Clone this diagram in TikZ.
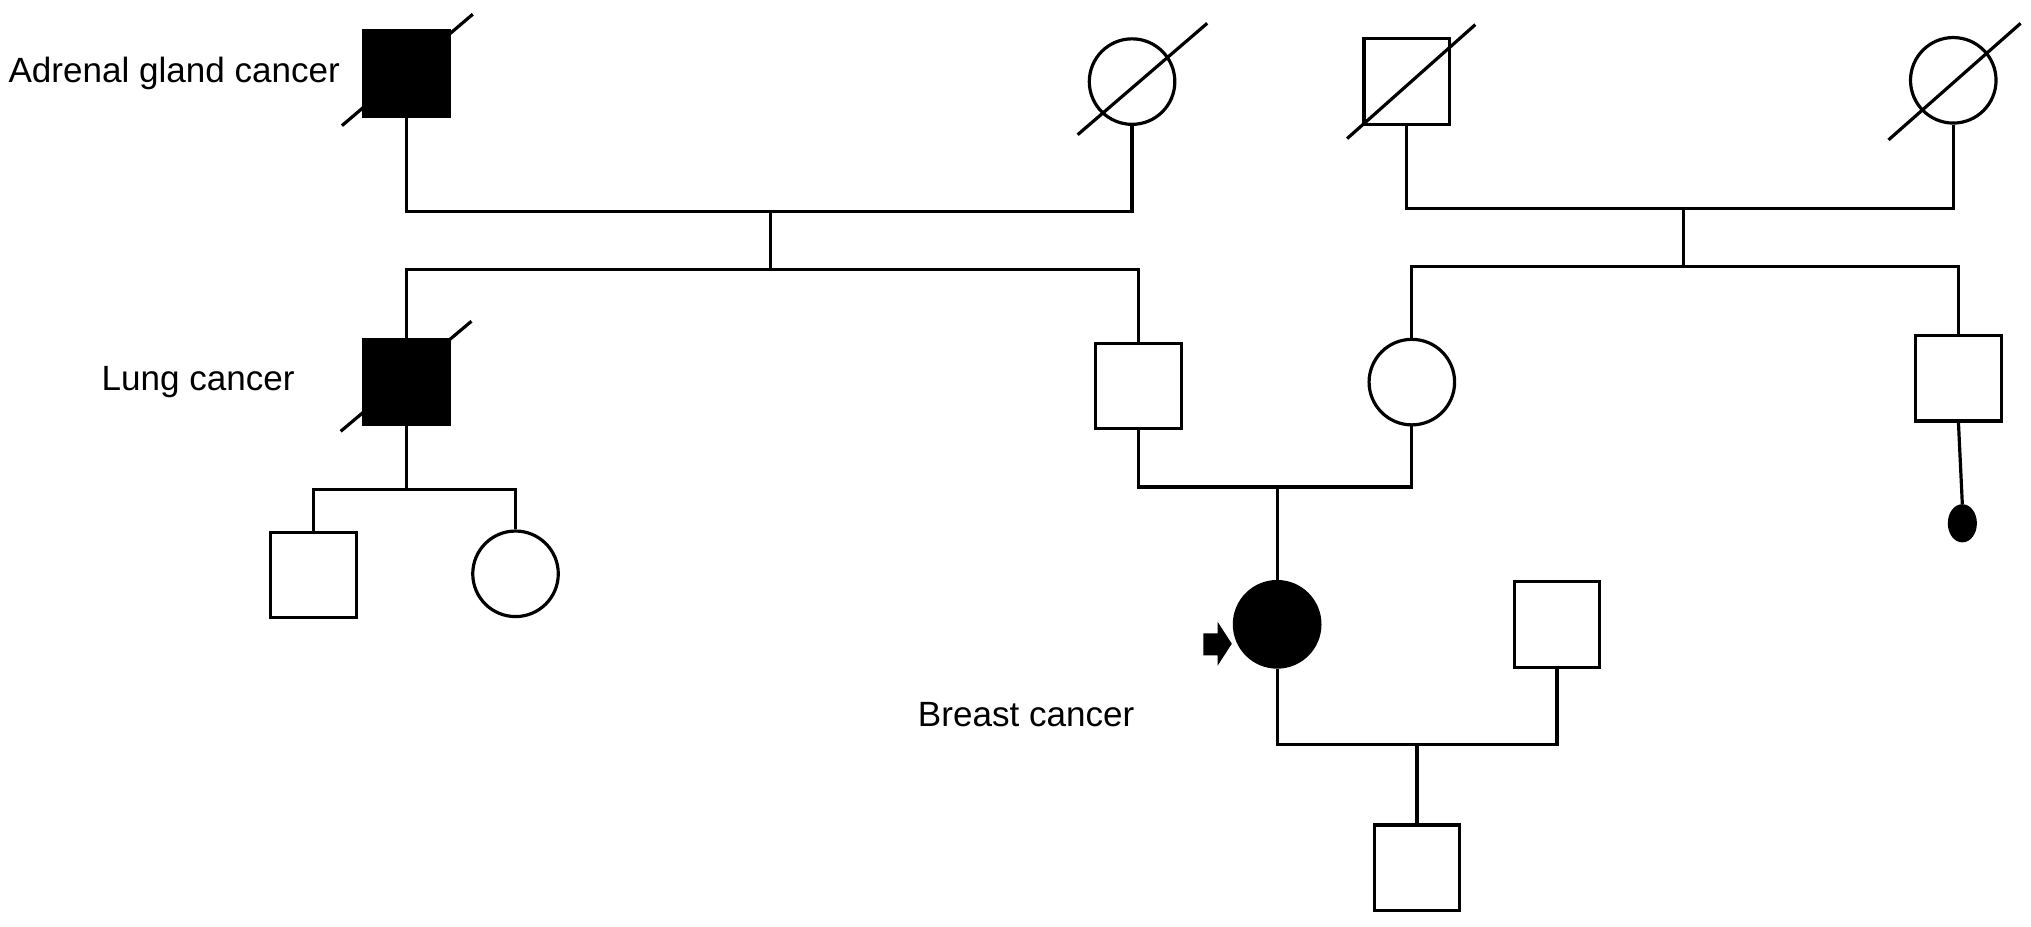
\documentclass[tikz,border=0pt]{standalone}
\usepackage{fontspec}
\setmainfont{Liberation Sans}
\usetikzlibrary{positioning,shapes.geometric}

\begin{document}
\begin{tikzpicture}[x=0.01cm, y=-0.01cm, line width=0.7pt]
\tikzset{male/.style={draw, rectangle, minimum size=0.66cm, inner sep=0pt},
  female/.style={draw, circle, minimum size=0.66cm, inner sep=0pt},
  affected/.style={fill=black},
  lbl/.style={inner sep=0pt, font=\fontsize{7.7}{9}\selectfont}}
\useasboundingbox (0,0) rectangle (1568,715);
% generation I
\node[male, affected] (AG) at (314,57) {};
\node[female] (GM1) at (874,63) {};
\node[male] (GF2) at (1086,63) {};
\node[female] (GM2) at (1508,62) {};
% generation II
\node[male, affected] (LC) at (314,295) {};
\node[male] (F) at (879,298) {};
\node[female] (M) at (1090,295) {};
\node[male] (U2) at (1512,292) {};
\node[draw, ellipse, fill=black, minimum width=0.2cm, minimum height=0.27cm, inner sep=0pt] (MC) at (1515,404) {};
% generation III
\node[male] (S1) at (242,444) {};
\node[female] (D1) at (398,443) {};
\node[female, affected] (PB) at (986,482) {};
\node[male] (H) at (1202,482) {};
% generation IV
\node[male] (C) at (1094,670) {};
% deceased
\foreach \n/\a/\b in {AG/{-50,40}/{51,-46}, GM1/{-42,41}/{58,-45},
    GF2/{-46,44}/{53,-44}, GM2/{-50,46}/{52,-44}, LC/{-51,38}/{50,-47}}
  \draw ([shift={(\a)}]\n.center) -- ([shift={(\b)}]\n.center);
% labels
\node[lbl, left=0.16cm of AG] (tAG) {Adrenal gland cancer};
\node[lbl, left=0.51cm of LC] (tLC) {Lung cancer};
\node[lbl, anchor=base east] (tBC) at (877,561) {Breast cancer};
% proband arrow
\fill (929,489) -- (940,489) -- (940,480) -- (951,497) -- (940,514) -- (940,506) -- (929,506) -- cycle;
% lines
\coordinate (m1) at (595,163);
\coordinate (s1) at (595,208);
\draw (AG.south) |- (m1) -| (GM1.south);
\draw (m1) -- (s1);
\draw (LC.north) |- (s1) -| (F.north);
\coordinate (m2) at (1300,161);
\coordinate (s2) at (1300,206);
\draw (GF2.south) |- (m2) -| (GM2.south);
\draw (m2) -- (s2);
\draw (M.north) |- (s2) -| (U2.north);
\draw (U2.south) -- (MC.north);
\coordinate (l1) at (314,378);
\draw (LC.south) -- (l1);
\draw (S1.north) |- (l1) -| (D1.north);
\coordinate (m3) at (986,376);
\draw (F.south) |- (m3) -| (M.south);
\draw (m3) -- (PB.north);
\coordinate (m4) at (1094,575);
\draw (PB.south) |- (m4) -| (H.south);
\draw (m4) -- (C.north);
\end{tikzpicture}
\end{document}
